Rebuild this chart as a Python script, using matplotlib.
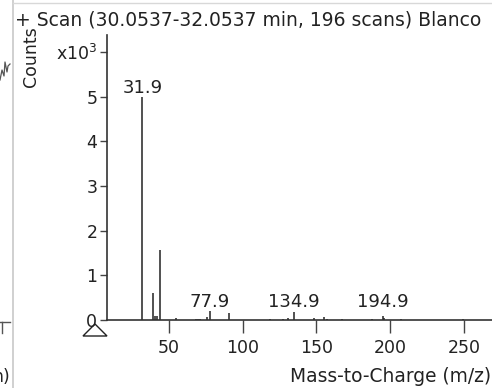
"""
plot.py
MassHunter-style spectrum: + Scan (30.0537-32.0537 min) Blanco
"""

import numpy as np
import matplotlib
matplotlib.use("Agg")
import matplotlib.pyplot as plt
from matplotlib.patches import Polygon
from matplotlib.lines import Line2D

# ── Spectrum data (m/z, counts x10^3) ─────────────────────────
mz = [31.9, 39.5, 40.7, 42.2, 43.9, 54.5, 68.0, 69.5, 71.0, 76.0, 77.9,
      91.0, 118.6, 127.0, 130.5, 134.9, 148.0, 155.3, 157.0, 167.6,
      187.4, 194.9, 196.0, 207.6, 249.5]
counts = [5.0, 0.6, 0.1, 0.08, 1.57, 0.04, 0.02, 0.02, 0.02, 0.06, 0.2,
          0.15, 0.03, 0.03, 0.05, 0.18, 0.04, 0.06, 0.02, 0.03,
          0.03, 0.08, 0.05, 0.03, 0.03]
labelled = [31.9, 77.9, 134.9, 194.9]

xticks = [50, 100, 150, 200, 250]
yticks = [0, 1, 2, 3, 4, 5, 6]
ytick_labels = ["0", "1", "2", "3", "4", "5", "x10$^3$"]

title = "+ Scan (30.0537-32.0537 min, 196 scans) Blanco"
xlabel = "Mass-to-Charge (m/z)"
ylabel = "Counts"

INK = "#222222"
W, H = 492, 388

plt.rcParams["font.family"] = ["DejaVu Sans"]

fig = plt.figure(figsize=(W / 100, H / 100), dpi=100)
fig.patch.set_facecolor("white")

def px(x, y):
    return (x / W, 1 - y / H)

# ── Main axes ─────────────────────────────────────────────────
ax_l, ax_r, ax_t, ax_b = 107, 492, 35, 320
ax = fig.add_axes([ax_l / W, 1 - ax_b / H, (ax_r - ax_l) / W, (ax_b - ax_t) / H])
ax.set_xlim(8, 269)
ax.set_ylim(0, 6.38)

ax.vlines(mz, 0, counts, color=INK, lw=1.1)

for m, c in zip(mz, counts):
    if m in labelled:
        ax.text(m, max(c, 0.2), f"{m:.1f}", ha="center", va="bottom",
                fontsize=13, color=INK)

for s in ["top", "right"]:
    ax.spines[s].set_visible(False)
for s in ["left", "bottom"]:
    ax.spines[s].set_color("#333333")
    ax.spines[s].set_linewidth(1.2)

ax.set_xticks(xticks)
ax.set_yticks(yticks)
ax.set_yticklabels(ytick_labels)
ax.tick_params(axis="x", length=9.5, width=1.0, color="#444444",
               labelsize=12.5, pad=4, labelcolor=INK)
ax.tick_params(axis="y", length=5, width=1.0, color="#444444",
               labelsize=12.5, pad=2, labelcolor=INK)

# ── Texts ─────────────────────────────────────────────────────
fig.text(*px(15, 20), title, fontsize=13.5, color=INK, va="center", ha="left")
fig.text(*px(491, 377), xlabel, fontsize=13.4, color=INK, va="center", ha="right")
fig.text(*px(31, 57), ylabel, fontsize=12.5, color=INK, va="center",
         ha="center", rotation=90)

# origin triangle marker
tri = Polygon([px(95, 324), px(83, 336), px(107, 336)], closed=True,
              fill=False, edgecolor=INK, lw=1.0, transform=fig.transFigure)
fig.add_artist(tri)

# ── Frame of the neighbouring panel ───────────────────────────
fig.add_artist(Line2D([px(13, 0)[0], px(13, 388)[0]], [1, 0],
                      color="#c8c8c8", lw=1.2, transform=fig.transFigure))
fig.add_artist(Line2D([px(13, 3)[0], 1], [px(13, 3)[1]] * 2,
                      color="#d8d8d8", lw=1.0, transform=fig.transFigure))
# leftover pieces of the left chart
sx = [0, 2, 4, 5, 7, 8, 10]
sy = [80, 70, 76, 62, 72, 66, 64]
fig.add_artist(Line2D([px(x, 0)[0] for x in sx], [px(0, y)[1] for y in sy],
                      color="#555555", lw=0.9, transform=fig.transFigure))
fig.add_artist(Line2D([0, px(10, 0)[0]], [px(0, 322)[1]] * 2,
                      color="#555555", lw=1.0, transform=fig.transFigure))
fig.add_artist(Line2D([px(2, 0)[0]] * 2, [px(0, 322)[1], px(0, 333)[1]],
                      color="#555555", lw=1.0, transform=fig.transFigure))
fig.text(*px(10, 377), "n)", fontsize=12.5, color=INK, va="center", ha="right")

fig.savefig("out.png", dpi=100, facecolor="white")
